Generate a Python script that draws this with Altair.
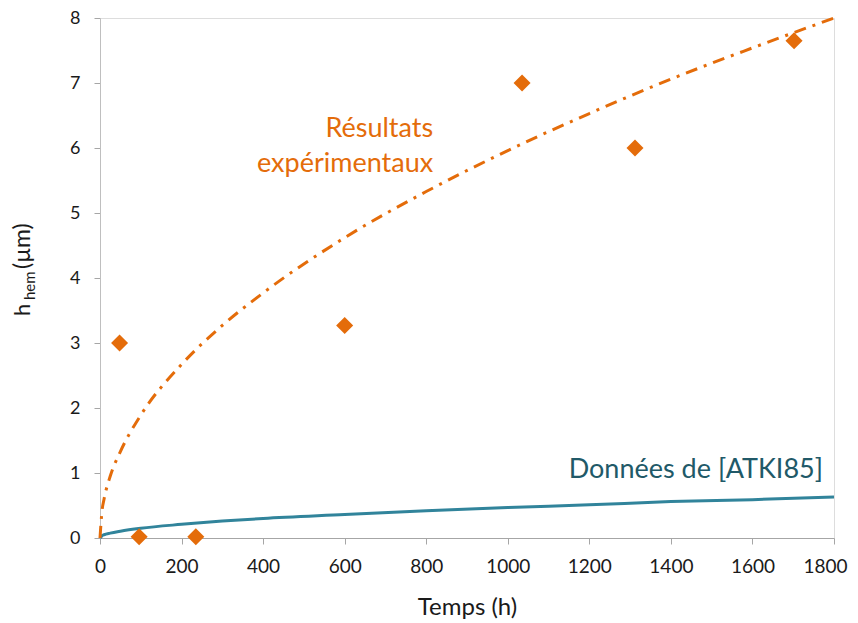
import altair as alt
import pandas as pd

# Experimental points (Temps h, h_hem µm)
pt_t = [48, 96, 235, 600, 1035, 1312, 1702]
pt_h = [3.0, 0.02, 0.02, 3.27, 7.0, 6.0, 7.65]

# Dash-dot trend curve
fit_t = [0, 5, 10, 25, 50, 100, 200, 300, 400, 600, 800, 1000, 1200, 1400, 1600, 1800]
fit_h = [0.0, 0.42, 0.6, 0.95, 1.33, 1.89, 2.67, 3.27, 3.77, 4.62, 5.33, 5.96, 6.53, 7.06, 7.54, 8.0]

# Données de [ATKI85] curve
atk_t = [0, 5, 10, 25, 50, 100, 200, 300, 400, 600, 800, 1000, 1200, 1400, 1600, 1800]
atk_h = [0.0, 0.035, 0.05, 0.075, 0.105, 0.15, 0.21, 0.26, 0.30, 0.36, 0.42, 0.47, 0.51, 0.56, 0.59, 0.63]

# Annotation labels
lab_text = ["Résultats", "expérimentaux", "Données de [ATKI85]"]
lab_t = [817, 817, 1773]
lab_h = [6.17, 5.63, 0.92]
lab_col = ["#E46C0A", "#E46C0A", "#215968"]

ORANGE = "#E46C0A"
TEAL = "#31849B"
FONT = "Lato"
INK = "#1a1a1a"

pts = pd.DataFrame({"t": pt_t, "h": pt_h})
fit = pd.DataFrame({"t": fit_t, "h": fit_h})
atk = pd.DataFrame({"t": atk_t, "h": atk_h})
labs = pd.DataFrame({"text": lab_text, "t": lab_t, "h": lab_h, "c": lab_col})

xs = alt.Scale(domain=[0, 1800], nice=False, zero=True)
ys = alt.Scale(domain=[0, 8], nice=False)

x_axis = alt.Axis(
    values=list(range(0, 1801, 200)), format="d", title="Temps (h)", grid=False,
    labelFontSize=19, labelFont=FONT, labelColor=INK, labelPadding=28,
    labelBaseline="alphabetic", labelFlush=False,
    labelOffset={"condition": {"test": "datum.value == 1800", "value": -9}, "value": 0},
    titleFontSize=24, titleFont=FONT, titleFontWeight="normal", titleColor=INK,
    titleBaseline="alphabetic", titleY=76,
    domainColor="#a6a6a6", tickColor="#a6a6a6", tickSize=6,
)
y_axis = alt.Axis(
    values=list(range(0, 9)), format="d", title=None, grid=False,
    labelFontSize=18, labelFont=FONT, labelColor=INK, labelPadding=14,
    domainColor="#bfbfbf", tickColor="#a6a6a6", tickSize=6,
)

base_x = alt.X("t:Q", scale=xs, axis=x_axis)
base_y = alt.Y("h:Q", scale=ys, axis=y_axis)

atk_line = alt.Chart(atk).mark_line(color=TEAL, strokeWidth=3, interpolate="monotone").encode(
    x=base_x, y=base_y
)
fit_line = alt.Chart(fit).mark_line(
    color=ORANGE, strokeWidth=3, strokeDash=[12, 7, 3, 7], interpolate="monotone"
).encode(x="t:Q", y="h:Q")
points = alt.Chart(pts).mark_point(
    shape="diamond", filled=True, color=ORANGE, size=290, opacity=1
).encode(x="t:Q", y="h:Q")
labels = alt.Chart(labs).mark_text(
    align="right", baseline="alphabetic", fontSize=27, font=FONT
).encode(x="t:Q", y="h:Q", text="text:N", color=alt.Color("c:N", scale=None))

# y-axis title with subscript, built from three text marks
yt_h = alt.Chart(pd.DataFrame({"s": ["h"]})).mark_text(
    angle=270, align="left", baseline="alphabetic", fontSize=22, font=FONT, color=INK
).encode(text="s:N", x=alt.value(-70), y=alt.value(298))
yt_sub = alt.Chart(pd.DataFrame({"s": ["hem"]})).mark_text(
    angle=270, align="left", baseline="alphabetic", fontSize=15, font=FONT, color=INK
).encode(text="s:N", x=alt.value(-65), y=alt.value(282))
yt_unit = alt.Chart(pd.DataFrame({"s": ["(µm)"]})).mark_text(
    angle=270, align="left", baseline="alphabetic", fontSize=23, font=FONT, color=INK
).encode(text="s:N", x=alt.value(-70), y=alt.value(251))

chart = alt.layer(atk_line, fit_line, points, labels, yt_h, yt_sub, yt_unit).properties(
    width=734, height=520,
    autosize=alt.AutoSizeParams(type="none"),
    padding={"left": 92, "top": 10, "right": 16, "bottom": 82},
).configure_view(stroke="#7f7f7f", strokeWidth=1.5).configure(background="white")

chart.save("out.html", embed_options={"renderer": "svg", "actions": False})
